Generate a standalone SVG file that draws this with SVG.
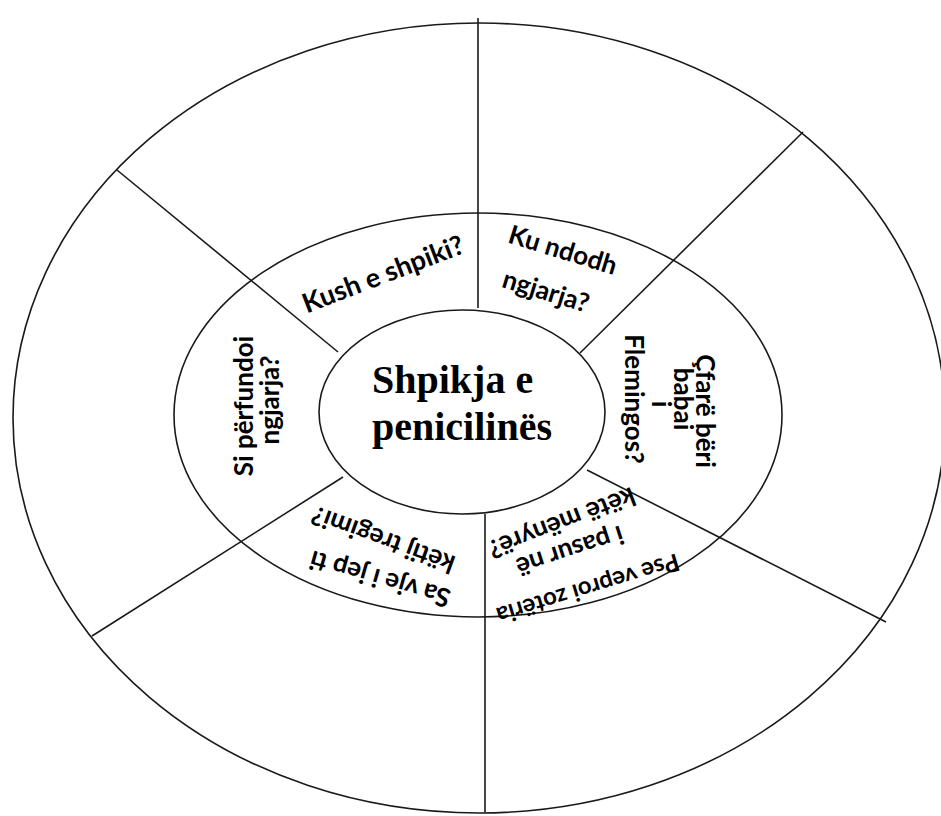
<svg xmlns="http://www.w3.org/2000/svg" width="941" height="816" viewBox="0 0 941 816">
<style>
.ring{fill:none;stroke:#1a1a1a;stroke-width:1.6}
.con line{stroke:#1a1a1a;stroke-width:1.6}
.lbl{font-family:Lato,"Liberation Sans",sans-serif;font-weight:bold;font-size:26px;fill:#000;text-anchor:middle}
.ttl{font-family:"Liberation Serif","Times New Roman",serif;font-weight:bold;font-size:40px;fill:#000}
</style>
<rect width="941" height="816" fill="#fff"/>
<g id="outer-ring"><ellipse class="ring" cx="479" cy="418" rx="466" ry="395"/></g>
<g id="middle-ring"><ellipse class="ring" cx="478" cy="415" rx="304" ry="202"/></g>
<g id="connectors" class="con">
<line x1="478" y1="18" x2="478" y2="308"/>
<line x1="485" y1="514" x2="485" y2="812"/>
<line x1="117" y1="170" x2="338" y2="352"/>
<line x1="803" y1="132" x2="580" y2="353"/>
<line x1="587" y1="470" x2="886" y2="622"/>
<line x1="343" y1="477" x2="92" y2="636"/>
</g>
<g id="center">
<ellipse class="ring" cx="462" cy="412" rx="143" ry="102" fill="#fff"/>
<text class="ttl" x="372" y="393">Shpikja e</text>
<text class="ttl" x="372" y="440">penicilinës</text>
</g>
<g id="kush">
<text class="lbl" style="font-size:27px" transform="translate(383,274) rotate(-21)" dy="0.35em">Kush e shpiki?</text>
</g>
<g id="ku">
<text class="lbl" transform="translate(563,250) rotate(17)" dy="0.35em">Ku ndodh</text>
<text class="lbl" transform="translate(546,291) rotate(17)" dy="0.35em">ngjarja?</text>
</g>
<g id="cfare">
<text class="lbl" transform="translate(705,411) rotate(90)" dy="0.35em">Çfarë bëri</text>
<text class="lbl" transform="translate(683,399) rotate(90)" dy="0.35em">babai</text>
<text class="lbl" transform="translate(661,404) rotate(90)" dy="0.35em">i</text>
<text class="lbl" transform="translate(634,399) rotate(90)" dy="0.35em">Flemingos?</text>
</g>
<g id="pse">
<text class="lbl" style="font-size:24px" transform="translate(588,589) rotate(163)" dy="0.35em">Pse veproi zotëria</text>
<text class="lbl" transform="translate(570,551) rotate(162)" dy="0.35em">i pasur në</text>
<text class="lbl" transform="translate(562,523) rotate(159)" dy="0.35em">këtë mënyrë?</text>
</g>
<g id="sa">
<text class="lbl" transform="translate(380,579) rotate(196)" dy="0.35em">Sa vje i jep ti</text>
<text class="lbl" transform="translate(383,540) rotate(200)" dy="0.35em">këtij tregimi?</text>
</g>
<g id="si">
<text class="lbl" transform="translate(244,406) rotate(-90)" dy="0.35em">Si përfundoi</text>
<text class="lbl" transform="translate(270,400) rotate(-90)" dy="0.35em">ngjarja?</text>
</g>
</svg>
